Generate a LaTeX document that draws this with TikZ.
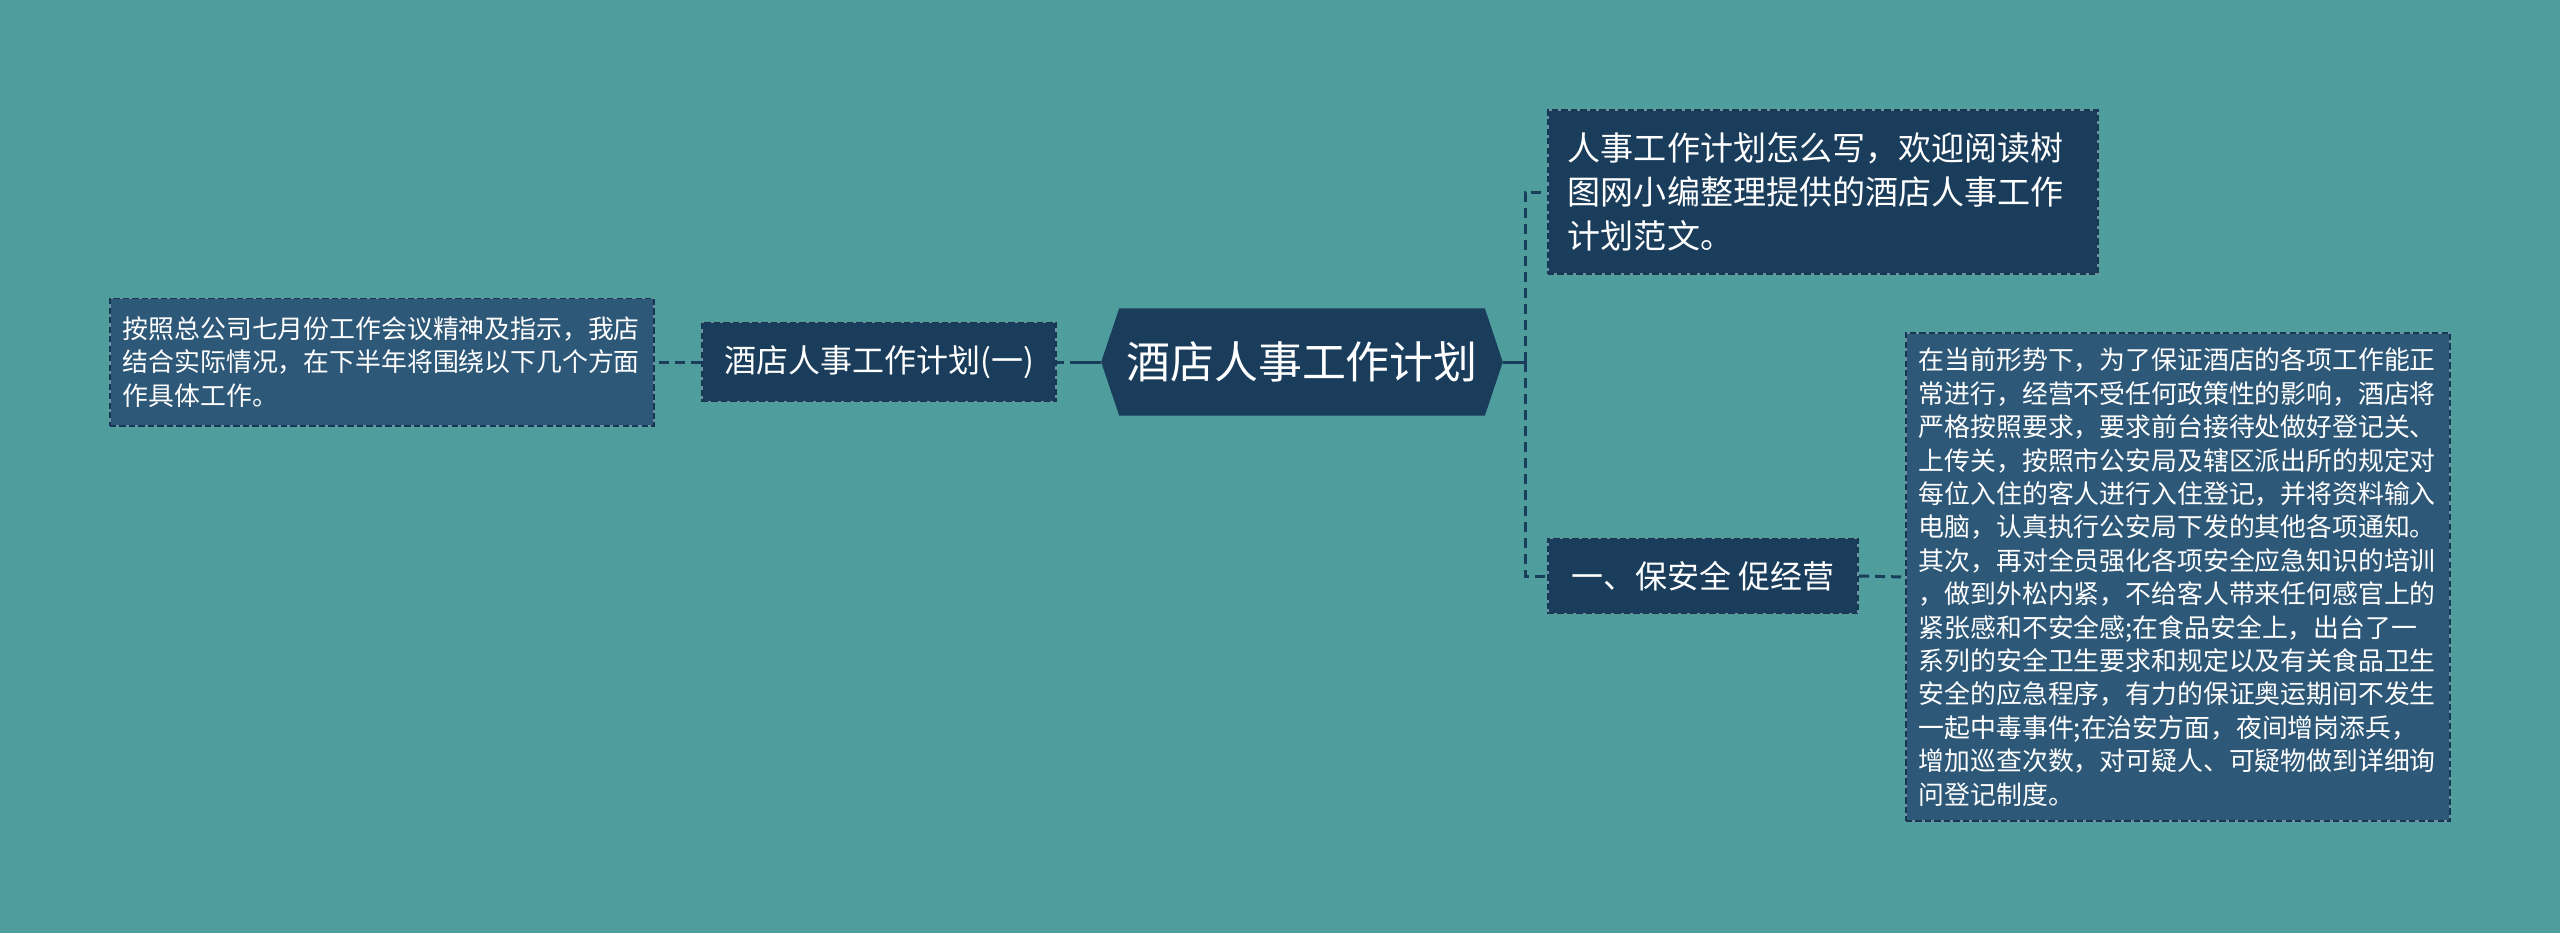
\documentclass[tikz,border=0pt]{standalone}
\usepackage{fontspec}
\setmainfont{Noto Sans CJK SC}
\usetikzlibrary{backgrounds}
\definecolor{bgteal}{HTML}{4F9D9D}
\definecolor{navy}{HTML}{1A3D5C}
\definecolor{leafblue}{HTML}{2E5878}
\definecolor{bordlight}{HTML}{6A93A4}
\definecolor{borddark}{HTML}{173651}
\begin{document}
\begin{tikzpicture}[x=0.01cm,y=-0.01cm,
  boxbase/.style={text=white, inner ysep=0pt, draw=bordlight, line width=0.55pt,
    postaction={draw=borddark, dash pattern=on 1.8pt off 0.9pt, line width=0.55pt}},
  subbox/.style={boxbase, fill=navy, inner xsep=0pt, font=\fontsize{9.1}{12}\selectfont},
  leafbox/.style={boxbase, fill=leafblue, align=left, inner xsep=0.13cm,
    text width=5.18cm, font=\fontsize{7.35}{9.5}\selectfont},
  topbox/.style={boxbase, fill=navy, align=left, inner xsep=0.2cm,
    text width=5.1cm, font=\fontsize{9.4}{12.5}\selectfont},
  rootconn/.style={draw=navy, line width=0.85pt, dash pattern=on 9pt off 1.7pt},
  conn/.style={draw=navy, line width=0.85pt, dash pattern=on 2.85pt off 1.7pt}]
\useasboundingbox (0,0) rectangle (2560,933);
% nodes
\node[minimum width=4cm, minimum height=1.06cm, inner sep=0pt, text=white,
  font=\fontsize{12.5}{15}\selectfont] (root) at (1302,362) {酒店人事工作计划};
\node[subbox, minimum width=3.54cm, minimum height=0.79cm] (lsub) at (879,362) {酒店人事工作计划(一)};
\node[leafbox, minimum height=1.27cm] (lleaf) at (382,362) {按照总公司七月份工作会议精神及指示，我店\\结合实际情况，在下半年将围绕以下几个方面\\作具体工作。};
\node[topbox, minimum height=1.63cm] (top) at (1823,192) {人事工作计划怎么写，欢迎阅读树\\图网小编整理提供的酒店人事工作\\计划范文。};
\node[subbox, minimum width=3.1cm, minimum height=0.75cm] (rsub) at (1703,576) {一、保安全 促经营};
\node[leafbox, minimum height=4.88cm] (bleaf) at (2178,577) {在当前形势下，为了保证酒店的各项工作能正\\常进行，经营不受任何政策性的影响，酒店将\\严格按照要求，要求前台接待处做好登记关、\\上传关，按照市公安局及辖区派出所的规定对\\每位入住的客人进行入住登记，并将资料输入\\电脑，认真执行公安局下发的其他各项通知。\\其次，再对全员强化各项安全应急知识的培训\\，做到外松内紧，不给客人带来任何感官上的\\紧张感和不安全感;在食品安全上，出台了一\\系列的安全卫生要求和规定以及有关食品卫生\\安全的应急程序，有力的保证奥运期间不发生\\一起中毒事件;在治安方面，夜间增岗添兵，\\增加巡查次数，对可疑人、可疑物做到详细询\\问登记制度。};
\coordinate (trunk) at (1525,362);
% background and root hexagon
\begin{scope}[on background layer]
\fill[bgteal] (0,0) rectangle (2560,933);
\fill[navy] (root.west) -- ([xshift=0.18cm]root.north west) -- ([xshift=-0.18cm]root.north east)
  -- (root.east) -- ([xshift=-0.18cm]root.south east) -- ([xshift=0.18cm]root.south west) -- cycle;
\end{scope}
% connectors
\draw[rootconn] (root.west) -- (lsub.east);
\draw[conn] (lsub.west) -- (lleaf.east);
\draw[rootconn] (root.east) -- (trunk);
\draw[conn] (trunk) |- (top.west);
\draw[conn] (trunk) |- (rsub.west);
\draw[conn] (rsub.east) -- (bleaf.west);
\end{tikzpicture}
\end{document}
